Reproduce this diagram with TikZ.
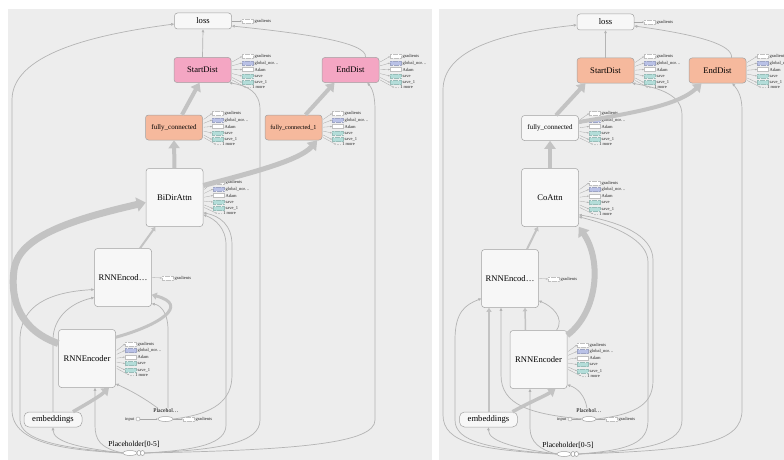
\documentclass[tikz,border=0pt]{standalone}
\usepackage{fontspec}
\setmainfont{Liberation Serif}
\usetikzlibrary{arrows.meta,shapes.geometric}
\definecolor{panelc}{HTML}{EDEDED}
\definecolor{nodef}{HTML}{F7F7F7}
\definecolor{nodeb}{HTML}{A2A2A2}
\definecolor{pinkc}{HTML}{F4A6C3}
\definecolor{orangec}{HTML}{F6B99D}
\definecolor{globalc}{HTML}{B9C1E6}
\definecolor{savec}{HTML}{B3DDD9}
\definecolor{edgec}{HTML}{B4B4B4}
\definecolor{bandc}{HTML}{C3C3C3}
\newcommand\auxgroup[3]{%
  \foreach \dy/\sty/\txt [count=\k] in {-13.5/gbox/gradients, -7/nbox/{global\_nor\ldots}, -0.5/abox/Adam, 6/sbox/save, 12.5/sbox/{save\_1}}{%
    \node[\sty] (#1-a\k) at (#2+5.5,#3+\dy) {};
    \node[auxtext, anchor=west] (#1-t\k) at (#2+12,#3+\dy) {\txt};
    \draw[auxarrow] ([shift={(1,0.6*\dy)}]#1.east) -- (#1-a\k.west);
  }
  \node[auxtext, anchor=west] (#1-more) at (#2+4,#3+17.5) {\ldots\ 1 more};
  \draw[auxarrow] ([shift={(1,10)}]#1.east) -- (#1-more.west);
}
\newcommand\gradone[3]{%
  \node[gbox] (#1-g) at (#2+5.5,#3) {};
  \node[auxtext, anchor=west] (#1-gt) at (#2+12,#3) {gradients};
}
\begin{document}
\begin{tikzpicture}[x=1pt,y=-1pt,
  op/.style={draw=nodeb, fill=nodef, rounded corners=3pt, inner sep=0pt, line width=0.5pt, font=\fontsize{8.6}{10}\selectfont},
  big/.style={op, minimum width=57pt, minimum height=58pt},
  mid/.style={op, minimum width=57pt, minimum height=25pt},
  small/.style={op, minimum width=57pt, minimum height=16pt},
  emb/.style={op, minimum width=58pt, minimum height=15pt, rounded corners=5pt},
  phol/.style={ellipse, draw=nodeb, fill=white, minimum height=5pt, inner sep=0pt, line width=0.5pt},
  incirc/.style={circle, draw=nodeb, fill=white, minimum size=4pt, inner sep=0pt, line width=0.4pt},
  ptext/.style={inner sep=0.5pt},
  auxtext/.style={font=\fontsize{4.5}{5}\selectfont, inner sep=0.5pt, text=black!85},
  gbox/.style={draw=black!25, dash pattern=on 0.7pt off 0.5pt, fill=white, minimum width=11pt, minimum height=4pt, inner sep=0pt, line width=0.3pt},
  abox/.style={draw=black!25, dash pattern=on 0.3pt off 0.5pt, fill=white, minimum width=11pt, minimum height=4pt, inner sep=0pt, line width=0.3pt},
  nbox/.style={draw=globalc!85!black, dash pattern=on 0.7pt off 0.5pt, fill=globalc, minimum width=11pt, minimum height=4pt, inner sep=0pt, line width=0.3pt},
  sbox/.style={draw=savec!85!black, dash pattern=on 0.7pt off 0.5pt, fill=savec, minimum width=11pt, minimum height=4pt, inner sep=0pt, line width=0.3pt},
  auxarrow/.style={draw=black!35, line width=0.3pt, -{Stealth[length=1.6pt,width=1.4pt]}},
  thinedge/.style={draw=edgec, line width=0.7pt, -{Triangle[length=3pt,width=2.6pt]}},
  band/.style={draw=bandc}
]
\useasboundingbox (0,0) rectangle (784,460);
\clip (0,0) rectangle (784,460);
\fill[white] (0,0) rectangle (784,460);
\fill[panelc] (8,9) rectangle (432,460);
\fill[panelc] (439,9) rectangle (784,460);

% ================= LEFT PANEL =================
\node[small] (lossL) at (203,21) {loss};
\node[mid, fill=pinkc] (sdL) at (202.5,70) {StartDist};
\node[mid, fill=pinkc] (edL) at (350.5,70) {EndDist};
\node[mid, fill=orangec, font=\fontsize{7}{8}\selectfont] (fcL) at (174,127.5) {fully\_connected};
\node[mid, fill=orangec, font=\fontsize{6.2}{7}\selectfont] (fc1L) at (293.5,127.5) {fully\_connected\_1};
\node[big] (bda) at (174.5,197.5) {BiDirAttn};
\node[big] (rncL) at (123,277.5) {RNNEncod\ldots};
\node[big] (rneL) at (87,358.5) {RNNEncoder};
\node[emb] (embL) at (53,419.5) {embeddings};
\node[phol, minimum width=15pt] (phL) at (165.5,419) {};
\node[ptext, font=\fontsize{5.7}{6}\selectfont] (phLt) at (166,411) {Placehol\ldots};
\node[incirc] (inL) at (138,419) {};
\node[auxtext, anchor=east] (inLt) at (135,419) {input};
\gradone{phL}{183}{419}
\node[phol, minimum width=14pt] (pxL) at (130,453) {};
\node[phol, minimum width=4pt] (pxL2) at (139,453) {};
\node[phol, minimum width=4pt] (pxL3) at (142.5,453) {};
\node[ptext, font=\fontsize{7.6}{8}\selectfont] (pxLt) at (134,444) {Placeholder[0-5]};

% aux groups
\gradone{lossL}{242}{21}
\draw[auxarrow] (lossL.east) -- (lossL-g.west);
\gradone{rncL}{162}{278}
\draw[auxarrow] (rncL.east) -- (rncL-g.west);
\draw[auxarrow] (inL.east) -- (phL.west);
\draw[auxarrow] (phL.east) -- (phL-g.west);
\auxgroup{sdL}{242}{70}
\auxgroup{edL}{390}{70}
\auxgroup{fcL}{212}{127}
\auxgroup{fc1L}{332}{127}
\auxgroup{bda}{213}{196}
\auxgroup{rneL}{125}{357.5}

% thin edges
\draw[thinedge] (pxL.west) .. controls (70,450) and (12,445) .. (12,410) -- (12,100) .. controls (12,55) and (90,35) .. ([yshift=-3pt]lossL.west);
\draw[thinedge] (pxL.west) .. controls (60,448) and (20,440) .. (20,420) -- (20,340) .. controls (20,305) and (50,292) .. ([yshift=-12pt]rncL.west);
\draw[thinedge] (embL.north) -- (53,340) .. controls (53,318) and (70,303) .. ([yshift=-20pt]rncL.west);
\draw[thinedge] (pxL.west) .. controls (80,448) and (53,442) .. (embL.south);
\draw[thinedge] (pxL.west) .. controls (100,448) and (95,440) .. (95,425) -- ([xshift=8pt]rneL.south);
\draw[thinedge] ([xshift=-8pt]phLt.north) .. controls (140,395) and (125,388) .. ([yshift=4pt]rneL.south east);
\draw[thinedge] ([xshift=2pt]phLt.north) -- (168,330) .. controls (168,312) and (160,305) .. ([yshift=3pt]rncL.south east);
\draw[thinedge] (phL.east) .. controls (215,414) and (232,400) .. (232,375) -- (232,245) .. controls (232,225) and (220,216) .. ([yshift=14pt]bda.south east);
\draw[thinedge] (pxL3.east) .. controls (200,450) and (226,443) .. (226,425) -- (226,245) .. controls (226,228) and (215,219) .. ([yshift=12pt]bda.south east);
\draw[thinedge] (pxL3.east) .. controls (220,450) and (260,443) .. (260,420) -- (260,110) .. controls (260,92) and (248,86) .. ([xshift=-2pt]sdL.south east);
\draw[thinedge] (pxL3.east) .. controls (300,450) and (375,443) .. (375,420) -- (375,110) .. controls (375,95) and (372,88) .. ([xshift=-12pt]edL.south east);
\draw[thinedge] (sdL.north) -- (lossL.south);
\draw[thinedge] ([xshift=15pt]edL.north) .. controls (368,42) and (300,33) .. ([yshift=-5pt]lossL.east);

% thick edges
\draw[band, line width=7pt, -{Triangle[length=9pt,width=14pt]}] ([yshift=15pt]rneL.west) .. controls (20,330) and (10,300) .. (14,270) .. controls (18,240) and (60,222) .. ([yshift=-5pt]bda.west);
\draw[band, line width=2pt, -{Triangle[length=4pt,width=5pt]}] ([xshift=17pt]rncL.north) -- ([xshift=-19pt]bda.south);
\draw[band, line width=3pt, -{Triangle[length=5pt,width=7pt]}] ([yshift=-8pt]rneL.north east) .. controls (160,325) and (190,305) .. ([yshift=12pt]rncL.south east);
\draw[band, line width=3.5pt, -{Triangle[length=7pt,width=10pt]}] ([xshift=20pt]embL.north) .. controls (90,402) and (100,396) .. ([xshift=22pt]rneL.south);
\draw[band, line width=4pt, -{Triangle[length=8pt,width=11pt]}] (bda.north) -- (fcL.south);
\draw[band, line width=5pt, -{Triangle[length=9pt,width=12pt]}] ([yshift=12pt]bda.east) .. controls (255,172) and (300,160) .. ([xshift=-5pt]fc1L.south east);
\draw[band, line width=4pt, -{Triangle[length=8pt,width=11pt]}] ([xshift=8pt]fcL.north) -- ([xshift=-3pt]sdL.south);
\draw[band, line width=4pt, -{Triangle[length=8pt,width=11pt]}] ([xshift=12pt]fc1L.north) -- ([xshift=-16pt]edL.south);

% ================= RIGHT PANEL =================
\node[small] (lossR) at (605.5,22) {loss};
\node[mid, fill=orangec] (sdR) at (605.5,70.5) {StartDist};
\node[mid, fill=orangec] (edR) at (717.5,70.5) {EndDist};
\node[mid, font=\fontsize{7}{8}\selectfont] (fcR) at (550,128) {fully\_connected};
\node[big] (coR) at (550,197.5) {CoAttn};
\node[big] (rncR) at (510,278.5) {RNNEncod\ldots};
\node[big] (rneR) at (538.5,359.5) {RNNEncoder};
\node[emb] (embR) at (488.5,419.5) {embeddings};
\node[phol, minimum width=14pt] (phR) at (589,419) {};
\node[ptext, font=\fontsize{5.7}{6}\selectfont] (phRt) at (589,411) {Placehol\ldots};
\node[incirc] (inR) at (570,419) {};
\node[auxtext, anchor=east] (inRt) at (567,419) {input};
\gradone{phR}{606}{419}
\node[phol, minimum width=14pt] (pxR) at (564,454) {};
\node[phol, minimum width=4pt] (pxR2) at (573,454) {};
\node[phol, minimum width=4pt] (pxR3) at (576.5,454) {};
\node[ptext, font=\fontsize{7.6}{8}\selectfont] (pxRt) at (568,445) {Placeholder[0-5]};

\gradone{lossR}{644}{22}
\draw[auxarrow] (lossR.east) -- (lossR-g.west);
\gradone{rncR}{548}{279}
\draw[auxarrow] (rncR.east) -- (rncR-g.west);
\draw[auxarrow] (inR.east) -- (phR.west);
\draw[auxarrow] (phR.east) -- (phR-g.west);
\auxgroup{sdR}{644}{70}
\auxgroup{edR}{757}{70}
\auxgroup{fcR}{589}{127}
\auxgroup{coR}{589}{196.5}
\auxgroup{rneR}{577}{358.5}

% thin edges
\draw[thinedge] (pxR.west) .. controls (480,450) and (443,443) .. (443,415) -- (443,90) .. controls (443,50) and (500,33) .. ([yshift=-3pt]lossR.west);
\draw[thinedge] (pxR.west) .. controls (490,449) and (455,442) .. (455,420) -- (455,340) .. controls (455,312) and (465,305) .. ([yshift=-20pt]rncR.west);
\draw[thinedge] (phR.west) .. controls (530,414) and (501,405) .. (501,375) -- ([xshift=-9pt]rncR.south);
\draw[thinedge] (pxR.west) .. controls (520,449) and (488,442) .. (embR.south);
\draw[thinedge] (pxR.west) .. controls (540,450) and (530,442) .. (530,428) -- ([xshift=-8.5pt]rneR.south);
\draw[thinedge] ([xshift=-2pt]phRt.north) .. controls (585,395) and (577,388) .. ([yshift=4pt]rneR.south east);
\draw[thinedge] ([xshift=18pt]rneR.north) .. controls (565,318) and (552,306) .. ([yshift=7pt]rncR.south east);
\draw[thinedge] (phR.east) .. controls (640,414) and (653,402) .. (653,380) -- (653,260) .. controls (653,235) and (620,222) .. ([yshift=12pt]coR.south east);
\draw[thinedge] (pxR3.east) .. controls (630,450) and (648,443) .. (648,420) -- (648,262) .. controls (648,240) and (615,226) .. ([yshift=10pt]coR.south east);
\draw[thinedge] (pxR3.east) .. controls (650,450) and (682,443) .. (682,420) -- (682,115) .. controls (682,95) and (660,88) .. ([xshift=-2pt]sdR.south east);
\draw[thinedge] (pxR3.east) .. controls (700,450) and (742,443) .. (742,410) -- (742,110) .. controls (742,97) and (738,90) .. ([xshift=-14pt]edR.south east);
\draw[thinedge] (sdR.north) -- (lossR.south);
\draw[thinedge] ([xshift=14pt]edR.north) .. controls (733,45) and (700,35) .. ([yshift=-4pt]lossR.east);

% thick edges
\draw[band, line width=2pt, -{Triangle[length=4pt,width=5pt]}] ([xshift=0.5pt]embR.north) -- ([xshift=-21pt]rncR.south);
\draw[band, line width=1.5pt, -{Triangle[length=3.5pt,width=4.5pt]}] ([xshift=-13pt]rneR.north) -- ([xshift=15pt]rncR.south);
\draw[band, line width=3.5pt, -{Triangle[length=7pt,width=10pt]}] ([xshift=24pt]embR.north) .. controls (530,402) and (545,396) .. ([xshift=17pt]rneR.south);
\draw[band, line width=6pt, -{Triangle[length=9pt,width=13pt]}] ([yshift=-5pt]rneR.north east) .. controls (598,312) and (602,260) .. (coR.south east);
\draw[band, line width=2pt, -{Triangle[length=4pt,width=5pt]}] ([xshift=17pt]rncR.north) -- ([xshift=-12pt]coR.south);
\draw[band, line width=4pt, -{Triangle[length=8pt,width=11pt]}] (coR.north) -- (fcR.south);
\draw[band, line width=4pt, -{Triangle[length=8pt,width=11pt]}] ([xshift=6pt]fcR.north) -- ([xshift=-20pt]sdR.south);
\draw[band, line width=4pt, -{Triangle[length=8pt,width=11pt]}] ([yshift=6pt]fcR.east) .. controls (640,112) and (680,104) .. ([xshift=-16pt]edR.south);
\end{tikzpicture}
\end{document}
